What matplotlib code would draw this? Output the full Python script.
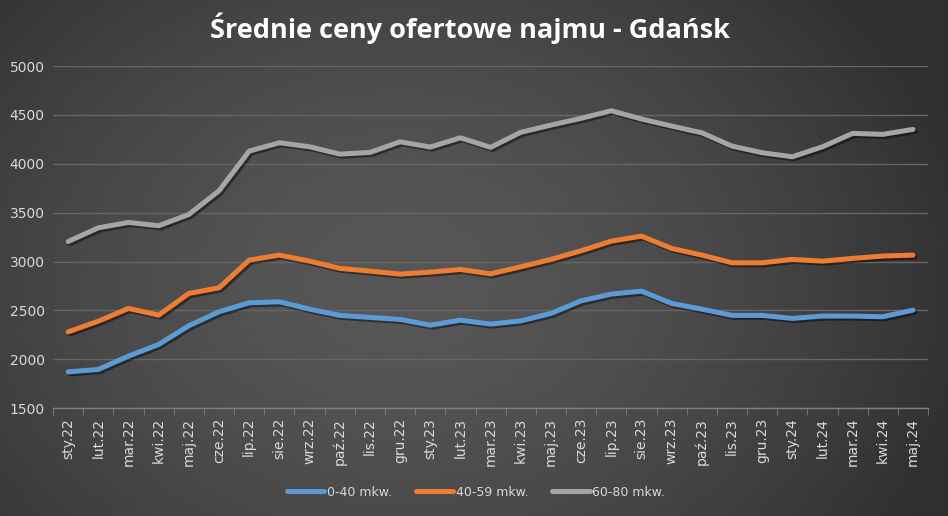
import numpy as np
import matplotlib
matplotlib.use("Agg")
import matplotlib.pyplot as plt
import matplotlib.patheffects as pe

months = ["sty.22", "lut.22", "mar.22", "kwi.22", "maj.22", "cze.22", "lip.22", "sie.22",
          "wrz.22", "paź.22", "lis.22", "gru.22", "sty.23", "lut.23", "mar.23", "kwi.23",
          "maj.23", "cze.23", "lip.23", "sie.23", "wrz.23", "paź.23", "lis.23", "gru.23",
          "sty.24", "lut.24", "mar.24", "kwi.24", "maj.24"]
s_0_40 = [1871, 1896, 2032, 2152, 2343, 2486, 2578, 2588, 2513, 2449, 2428, 2408, 2349, 2400,
          2360, 2393, 2469, 2598, 2667, 2697, 2571, 2513, 2449, 2449, 2418, 2442, 2442, 2435, 2503]
s_40_59 = [2281, 2390, 2520, 2452, 2674, 2731, 3015, 3066, 3004, 2930, 2902, 2871, 2892, 2919,
           2874, 2946, 3022, 3110, 3209, 3260, 3134, 3066, 2987, 2987, 3022, 3004, 3032, 3056, 3066]
s_60_80 = [3205, 3345, 3400, 3366, 3482, 3724, 4130, 4215, 4174, 4099, 4116, 4225, 4171, 4266,
           4168, 4322, 4396, 4465, 4543, 4458, 4386, 4317, 4181, 4113, 4072, 4174, 4311, 4301, 4352]
series_names = ["0-40 mkw.", "40-59 mkw.", "60-80 mkw."]
y_ticks = [1500, 2000, 2500, 3000, 3500, 4000, 4500, 5000]
title = "Średnie ceny ofertowe najmu - Gdańsk"

colors = ["#5B9BD5", "#ED7D31", "#A5A5A5"]

fig = plt.figure(figsize=(9.48, 5.16), dpi=100)

# gradient background
bg = fig.add_axes([0, 0, 1, 1], zorder=-10)
h, w = 258, 474
yy, xx = np.mgrid[0:h, 0:w]
cx, cy = w * 0.42, h * 0.55
r = np.sqrt(((xx - cx) / (w * 0.62)) ** 2 + ((yy - cy) / (h * 0.9)) ** 2)
r = np.clip(r, 0, 1)
light, dark = 0x57 / 255, 0x2f / 255
val = light + (dark - light) * r ** 1.6
img = np.dstack([val, val, val])
bg.imshow(img, aspect="auto", extent=[0, 1, 0, 1], interpolation="bilinear")
bg.set_axis_off()

ax = fig.add_axes([0.056, 0.209, 0.923, 0.663])
ax.set_facecolor("none")
x = np.arange(len(months))
shadow = [pe.SimpleLineShadow(offset=(1.5, -1.5), shadow_color="black", alpha=0.45), pe.Normal()]
handles = []
for data, c, name in zip([s_0_40, s_40_59, s_60_80], colors, series_names):
    ln, = ax.plot(x, data, color=c, lw=3.6, label=name, solid_capstyle="round",
                  solid_joinstyle="round", path_effects=shadow)
    handles.append(ln)

ax.set_ylim(1500, 5000)
ax.set_xlim(-0.5, len(months) - 0.5)
ax.set_yticks(y_ticks)
ax.set_yticklabels([str(v) for v in y_ticks])
ax.yaxis.grid(True, color="#666666", lw=1)
ax.set_axisbelow(True)
ax.set_xticks(x)
ax.set_xticklabels(months, rotation=90)
ax.set_xticks(np.arange(-0.5, len(months)), minor=True)
ax.tick_params(axis="x", which="major", length=0, colors="#D9D9D9", labelsize=10, pad=7)
ax.tick_params(axis="x", which="minor", length=5, color="#7f7f7f", direction="out")
ax.tick_params(axis="y", length=0, colors="#D9D9D9", labelsize=10, pad=6)
for sp in ["top", "right", "left"]:
    ax.spines[sp].set_visible(False)
ax.spines["bottom"].set_color("#7f7f7f")
ax.spines["bottom"].set_linewidth(1)

fig.text(0.496, 0.945, title, ha="center", va="center", color="white",
         fontsize=19.5, fontweight="bold", family="Open Sans")

leg = fig.legend(handles=handles, labels=series_names, loc="center",
                 bbox_to_anchor=(0.502, 0.046), ncol=3, frameon=False,
                 fontsize=9, handlelength=3.0, columnspacing=1.9, handletextpad=0.2)
for t in leg.get_texts():
    t.set_color("#D9D9D9")
for l in leg.get_lines():
    l.set_path_effects([])

fig.savefig("out.png", dpi=100)
